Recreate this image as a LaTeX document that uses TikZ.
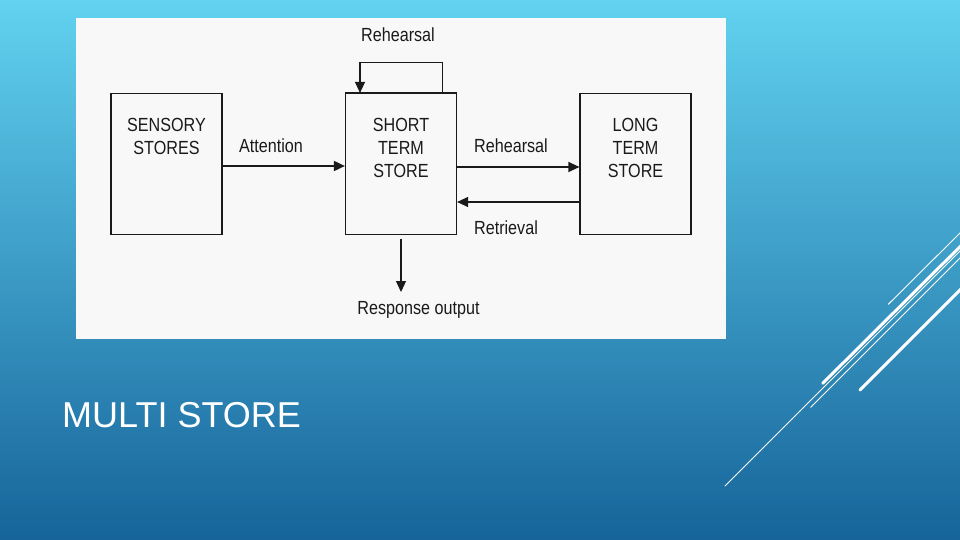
\documentclass[tikz,border=0pt]{standalone}
\usepackage{fontspec}
\setmainfont{Liberation Sans}
\newfontfamily\narrowfont[FakeStretch=0.85]{Liberation Sans}
\newfontfamily\titlefont{Liberation Sans}
\usetikzlibrary{arrows.meta}
\definecolor{ink}{HTML}{1A1A1A}
\definecolor{panel}{HTML}{F8F8F8}
\definecolor{bgtop}{HTML}{62D2F0}
\definecolor{bgbot}{HTML}{16649A}
\begin{document}
\begin{tikzpicture}[x=1pt,y=-1pt,
  box/.style={draw=ink, line width=1.2pt, minimum width=111pt, minimum height=141pt, inner sep=0pt, fill=panel},
  boxtext/.style={anchor=north, inner sep=0pt, align=center, font=\narrowfont\fontsize{19}{23}\selectfont, text=ink},
  lbl/.style={anchor=base, inner sep=0pt, font=\narrowfont\fontsize{19}{23}\selectfont, text=ink},
  arr/.style={draw=ink, line width=1.2pt, -{Triangle[length=11pt,width=10pt]}},
  deco/.style={draw=white, line cap=round}]
\useasboundingbox (0,0) rectangle (960,540);
\shade[top color=bgtop, bottom color=bgbot] (0,0) rectangle (960,540);
% decorative lines
\begin{scope}
\clip (0,0) rectangle (960,540);
\draw[deco, line width=3pt] (822.7,383.3) -- (962,244.7);
\draw[deco, line width=3pt] (860,390) -- (962,288);
\draw[deco, line width=0.9pt] (888.3,304.3) -- (962,231);
\draw[deco, line width=0.9pt] (810.7,407.3) -- (962,256);
\draw[deco, line width=0.9pt] (725,486) -- (962,249);
\end{scope}
% panel
\fill[panel] (76,18) rectangle (726,339);
% boxes
\node[box] (sens) at (166.5,164) {};
\node[box] (short) at (401,164) {};
\node[box] (long) at (635.5,164) {};
\draw[ink, line width=2pt] (short.north west) -- (short.north east);
\node[boxtext] (senst) at (166.5,117.8) {SENSORY\\STORES};
\node[boxtext] (shortt) at (401,118.3) {SHORT\\TERM\\STORE};
\node[boxtext] (longt) at (635.5,118.5) {LONG\\TERM\\STORE};
% labels
\node[lbl] (lrehtop) at (398,41.5) {Rehearsal};
\node[lbl] (latt) at (271,153) {Attention};
\node[lbl] (lreh) at (511,153) {Rehearsal};
\node[lbl] (lret) at (506,234) {Retrieval};
\node[lbl] (lresp) at (418.5,314.7) {Response output};
% connectors
\draw[arr, line width=1.8pt] ([yshift=-2pt]sens.east) -- ([yshift=-2pt]short.west);
\draw[arr] ([yshift=-3pt]short.east) -- ([yshift=-3pt]long.west);
\draw[arr] ([yshift=-38pt]long.west) -- ([yshift=-38pt]short.east);
\draw[arr] ([xshift=41.5pt]short.north) -- ++(0,-30.5) -| ([xshift=-41pt]short.north);
\coordinate (respend) at (401,292);
\draw[arr] ([yshift=-4pt]short.south) -- (respend);
% title
\node[anchor=base west, inner sep=0pt, text=white, font=\titlefont\fontsize{36}{40}\selectfont] (title) at (62,427) {MULTI STORE};
\end{tikzpicture}
\end{document}
